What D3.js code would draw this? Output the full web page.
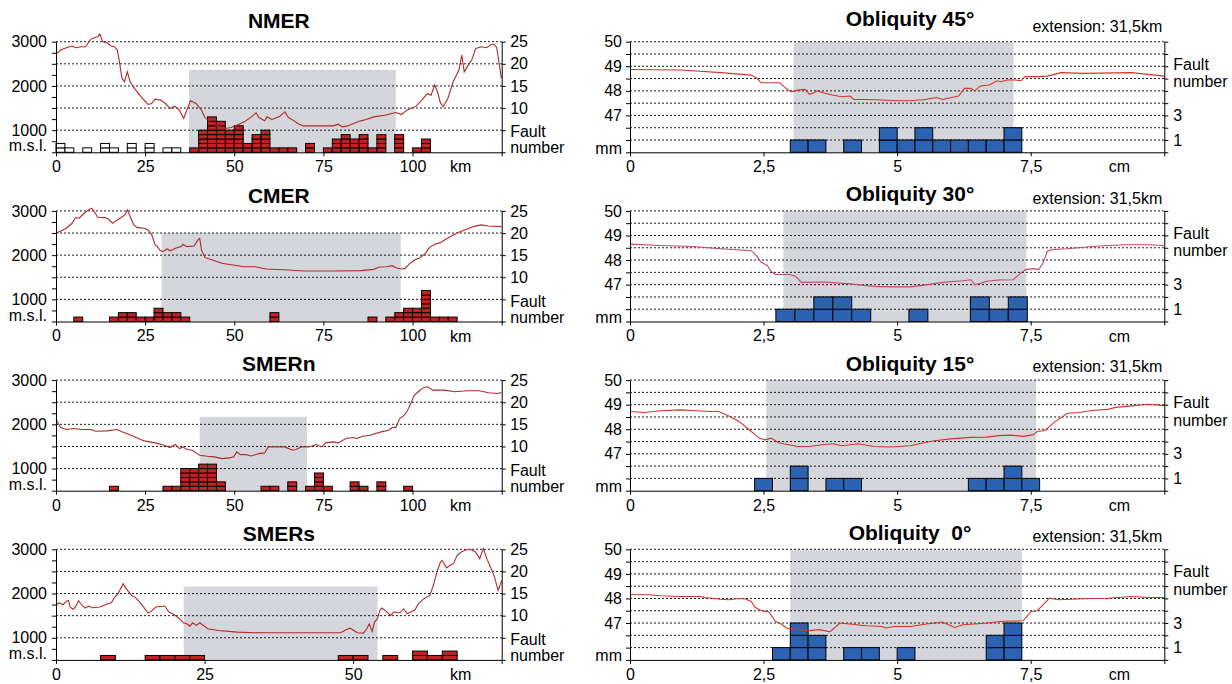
<!DOCTYPE html>
<html><head><meta charset="utf-8">
<script src="https://cdn.jsdelivr.net/npm/d3@7"></script>
<style>
body{margin:0;background:#fff}
svg{display:block;font-family:"Liberation Sans",Arial,Helvetica,sans-serif}
</style></head><body>
<svg id="chart" width="1232" height="684"></svg>
<script>
// ---- left column: natural rift profiles (km, m) ----
const nmerProfile = [[0.3,2736],[1.35,2811],[2.9,2864],[4.5,2902],[5.5,2864],[7.1,2887],[8.3,2887],[9.7,3053],[10.7,3090],[11.7,3113],[12.3,3174],[13.1,3000],[14.3,2977],[15.4,2902],[16.4,2887],[17.2,2811],[17.8,2547],[18.5,2170],[19.2,2094],[20.0,2320],[20.8,2094],[21.8,1966],[23.5,1792],[24.7,1679],[25.8,1581],[26.8,1603],[27.8,1701],[29.4,1679],[30.7,1603],[32.0,1490],[33.3,1543],[34.6,1452],[35.8,1264],[36.7,1452],[37.7,1664],[39.3,1603],[40.8,1452],[41.8,1286],[43.4,1165],[45.5,1090],[47.6,1037],[49.1,1060],[50.7,1113],[52.8,1188],[54.8,1301],[56.1,1392],[56.9,1286],[58.5,1211],[59.2,1301],[60.5,1241],[62.6,1301],[64.2,1414],[65.2,1286],[66.8,1211],[67.8,1150],[69.4,1097],[73.5,1097],[77.7,1097],[79.2,1135],[80.3,1075],[81.8,1097],[83.4,1150],[85.5,1211],[87.0,1241],[89.1,1301],[92.2,1339],[95.3,1399],[96.9,1354],[98.4,1452],[101.0,1543],[102.6,1679],[104.2,1830],[105.2,1792],[106.2,2019],[107.0,1868],[107.8,1618],[108.6,1528],[109.9,1717],[111.4,2094],[113.0,2358],[113.8,2698],[114.5,2320],[115.6,2471],[116.6,2585],[117.7,2849],[119.2,2887],[120.8,2864],[121.8,2924],[122.8,2947],[123.6,2871],[124.9,2170]];
const cmerProfile = [[0,2494],[1.35,2547],[2.9,2607],[4.5,2720],[5.5,2849],[6.5,2834],[7.6,2924],[9.1,3023],[10.0,3060],[10.7,2985],[11.7,2857],[13.8,2849],[14.8,2811],[15.9,2720],[17.2,2796],[18.7,2872],[19.5,2924],[20.0,3023],[20.8,2872],[21.8,2683],[22.8,2622],[24.7,2607],[25.8,2570],[26.8,2471],[27.8,2230],[28.3,2207],[29.1,2117],[29.9,2079],[31.2,2140],[32.0,2094],[33.5,2155],[35.1,2192],[35.6,2245],[36.7,2192],[38.7,2207],[39.8,2343],[40.3,2381],[40.8,2117],[41.8,1943],[43.9,1890],[46.5,1815],[49.6,1777],[52.8,1739],[55.9,1739],[59.0,1686],[65.2,1664],[69.4,1641],[77.7,1641],[85.5,1649],[89.1,1679],[90.7,1732],[92.7,1739],[94.3,1762],[95.3,1717],[96.9,1686],[97.9,1701],[99.0,1792],[100.5,1890],[102.1,1943],[103.6,2041],[104.7,2170],[106.2,2245],[107.8,2283],[109.3,2358],[111.4,2456],[113.0,2517],[115.1,2585],[117.1,2645],[119.2,2683],[121.3,2660],[124.9,2645]];
const smernProfile = [[0,2132],[0.5,2034],[1.35,1928],[2.9,1883],[5.0,1905],[7.1,1883],[9.7,1883],[11.2,1845],[14.3,1852],[17.2,1883],[18.5,1830],[21.1,1754],[23.7,1656],[24.7,1626],[27.8,1581],[30.4,1528],[32.0,1475],[33.5,1543],[34.6,1452],[35.6,1490],[36.7,1430],[38.2,1415],[40.3,1301],[42.4,1279],[44.4,1264],[46.5,1226],[48.6,1241],[49.8,1264],[50.7,1377],[51.7,1316],[53.3,1316],[54.8,1286],[56.9,1339],[58.5,1354],[59.5,1490],[61.6,1490],[64.2,1490],[66.3,1415],[67.3,1430],[68.8,1490],[70.9,1490],[73.0,1543],[74.6,1490],[75.6,1581],[77.7,1603],[79.2,1581],[81.3,1679],[83.4,1701],[84.4,1679],[86.0,1732],[88.1,1754],[91.2,1830],[93.3,1868],[94.3,1928],[95.3,1928],[96.4,2132],[97.4,2185],[98.4,2283],[99.5,2472],[100.5,2660],[101.6,2736],[103.1,2834],[104.2,2849],[105.7,2773],[108.8,2773],[111.9,2736],[115.1,2758],[118.7,2758],[121.3,2713],[123.9,2698],[124.9,2720]];
const smersProfile = [[0,1732],[0.5,1792],[1.2,1747],[1.7,1822],[2.1,1845],[2.4,1694],[2.9,1641],[3.4,1732],[3.8,1837],[4.3,1747],[4.9,1671],[5.5,1717],[6.2,1679],[7.4,1694],[8.7,1770],[9.3,1792],[9.9,1920],[10.5,2011],[11.3,2222],[11.8,2109],[12.7,1958],[13.3,1920],[14.3,1770],[15.5,1558],[16.0,1596],[16.8,1694],[18.3,1717],[19.0,1581],[19.9,1520],[20.8,1430],[21.4,1339],[22.0,1316],[22.5,1263],[23.0,1339],[23.6,1279],[24.2,1339],[24.8,1279],[25.5,1203],[27.3,1165],[30.5,1128],[34.2,1113],[40.4,1113],[47.9,1113],[48.8,1180],[49.5,1218],[50.1,1165],[50.7,1113],[51.7,1105],[52.3,1203],[52.7,1316],[53.2,1143],[53.6,1354],[54.1,1430],[54.5,1618],[54.8,1671],[55.4,1618],[56.3,1505],[56.9,1581],[57.9,1565],[58.5,1656],[59.1,1543],[59.7,1581],[60.4,1634],[61.0,1770],[61.9,1883],[62.9,1958],[63.5,2185],[64.1,2487],[64.7,2713],[65.0,2751],[65.7,2577],[66.3,2638],[66.9,2675],[67.5,2864],[68.2,2940],[68.8,2977],[69.7,3000],[70.6,2940],[71.3,2789],[71.9,3015],[72.5,2789],[73.1,2600],[73.7,2411],[74.4,2071],[75.0,2298]];

// fault counts per 2.5 km bin: [bin start km, number]
const nmerFaults = [[37.5,1],[40,5],[42.5,8],[45,7],[47.5,5],[50,6],[52.5,2],[55,4],[57.5,5],[60,1],[62.5,1],[65,1],[70,2],[75,1],[77.5,3],[80,4],[82.5,3],[85,4],[87.5,1],[90,4],[95,4],[100,1],[102.5,3]];
const nmerOldFaults = [[0,2],[2.5,1],[7.5,1],[12.5,2],[15,1],[20,2],[25,2],[30,1],[32.5,1]];
const cmerFaults = [[5,1],[15,1],[17.5,2],[20,2],[22.5,1],[25,1],[27.5,3],[30,2],[32.5,2],[35,1],[60,2],[87.5,1],[92.5,1],[95,2],[97.5,3],[100,3],[102.5,7],[105,1],[107.5,1],[110,1]];
const smernFaults = [[15,1],[30,1],[32.5,1],[35,5],[37.5,5],[40,6],[42.5,6],[45,2],[57.5,1],[60,1],[65,2],[70,1],[72.5,4],[75,1],[82.5,2],[85,1],[90,2],[97.5,1]];
const smersFaults = [[7.5,1],[15,1],[17.5,1],[20,1],[22.5,1],[47.5,1],[50,1],[55,1],[60,2],[62.5,1],[65,2]];

// shaded rift zone: [from km, to km, top m]
const nmerZone = [37.3, 95.3, 2360];
const cmerZone = [29.6, 96.7, 2500];
const smernZone = [40.3, 70.4, 2170];
const smersZone = [21.5, 54.1, 2160];

// ---- right column: analogue models (cm, mm) ----
const obl45Profile = [[0,48.87],[0.95,48.85],[1.7,48.74],[2.27,48.64],[2.38,48.51],[2.45,48.33],[2.8,48.33],[2.9,48.14],[3.02,47.96],[3.13,48.03],[3.28,48.06],[3.36,47.86],[3.44,47.92],[3.51,48.0],[3.62,47.92],[3.78,47.83],[3.96,47.76],[4.12,47.79],[4.19,47.65],[4.42,47.65],[4.72,47.63],[5.02,47.6],[5.25,47.6],[5.4,47.63],[5.47,47.63],[5.62,47.69],[5.74,47.73],[5.85,47.65],[6.0,47.72],[6.15,47.79],[6.26,48.1],[6.38,48.1],[6.45,48.0],[6.56,48.2],[6.72,48.24],[6.87,48.41],[6.94,48.37],[7.06,48.44],[7.21,48.44],[7.32,48.41],[7.39,48.58],[7.66,48.58],[7.81,48.6],[8.07,48.74],[8.49,48.71],[9.39,48.74],[10.0,48.6]];
const obl30Profile = [[0,48.65],[0.57,48.59],[1.17,48.55],[1.7,48.46],[2.27,48.38],[2.38,48.15],[2.45,47.92],[2.57,47.78],[2.64,47.54],[2.72,47.41],[2.98,47.41],[3.1,47.34],[3.21,47.09],[3.66,47.11],[4.11,47.03],[4.57,46.93],[4.87,46.91],[5.25,46.91],[5.47,46.97],[5.85,47.09],[6.23,47.16],[6.38,47.2],[6.45,47.0],[6.53,47.03],[6.68,47.14],[6.9,47.19],[7.17,47.2],[7.28,47.41],[7.4,47.61],[7.55,47.65],[7.65,47.61],[7.73,47.88],[7.81,48.35],[7.88,48.42],[8.18,48.46],[8.64,48.55],[9.24,48.62],[9.69,48.62],[10.0,48.59]];
const obl15Profile = [[0,48.72],[0.27,48.68],[0.57,48.75],[0.95,48.79],[1.25,48.75],[1.48,48.72],[1.66,48.72],[1.85,48.54],[2.04,48.32],[2.23,47.98],[2.34,47.78],[2.42,47.64],[2.53,47.57],[2.64,47.64],[2.79,47.44],[2.98,47.37],[3.13,47.3],[3.36,47.3],[3.59,47.37],[3.81,47.41],[3.96,47.33],[4.27,47.41],[4.57,47.3],[4.87,47.28],[5.25,47.33],[5.47,47.44],[5.7,47.53],[6.0,47.61],[6.38,47.67],[6.68,47.68],[6.9,47.74],[7.13,47.76],[7.36,47.71],[7.55,47.78],[7.62,47.91],[7.77,47.95],[7.96,48.32],[8.19,48.65],[8.41,48.68],[8.64,48.76],[8.94,48.81],[9.09,48.89],[9.39,48.95],[9.69,49.02],[10.0,48.96]];
const obl0Profile = [[0,48.15],[0.34,48.15],[0.57,48.11],[0.95,48.08],[1.32,48.08],[1.4,48.04],[1.7,47.97],[1.85,47.95],[2.0,47.99],[2.15,47.99],[2.27,47.88],[2.34,47.64],[2.46,47.5],[2.6,47.45],[2.72,47.07],[2.83,46.96],[2.95,46.77],[3.06,46.77],[3.36,46.69],[3.55,46.73],[3.74,46.64],[3.93,47.0],[4.11,46.96],[4.42,46.89],[4.72,46.86],[4.79,46.8],[4.94,46.86],[5.25,46.86],[5.55,46.96],[5.85,47.04],[5.96,46.93],[6.08,46.82],[6.23,46.93],[6.45,46.96],[6.68,47.0],[6.98,47.07],[7.36,47.09],[7.43,47.27],[7.51,47.47],[7.62,47.5],[7.73,47.74],[7.85,48.01],[8.03,47.95],[8.49,47.99],[8.94,48.01],[9.39,48.08],[9.69,48.04],[10.0,48.04]];

// fault counts: [bin start cm, number]
const obl45Faults = [[3.0,1],[3.333,1],[4.0,1],[4.667,2],[5.0,1],[5.333,2],[5.667,1],[6.0,1],[6.333,1],[6.667,1],[7.0,2]];
const obl30Faults = [[2.73,1],[3.085,1],[3.44,2],[3.795,2],[4.15,1],[5.22,1],[6.37,2],[6.725,1],[7.08,2]];
const obl15Faults = [[2.333,1],[3.0,2],[3.667,1],[4.0,1],[6.333,1],[6.667,1],[7.0,2],[7.333,1]];
const obl0Faults = [[2.667,1],[3.0,3],[3.333,2],[4.0,1],[4.333,1],[5.0,1],[6.667,2],[7.0,3]];
const modelBinWidth = [1/3, 0.355, 1/3, 1/3];

const obl45Zone = [3.06, 7.18, 50];
const obl30Zone = [2.87, 7.42, 50];
const obl15Zone = [2.55, 7.6, 50];
const obl0Zone = [3.0, 7.34, 50];

const leftTitles = ["NMER", "CMER", "SMERn", "SMERs"];
const leftKmMax = [125, 125, 125, 75];
const rightTitles = ["Obliquity 45°", "Obliquity 30°", "Obliquity 15°", "Obliquity  0°"];
const extensionText = "extension: 31,5km";
const elevTicks = [500, 750, 1000, 1250, 1500, 1750, 2000, 2250, 2500, 2750, 3000];
const elevLabels = [1000, 2000, 3000];
const elevGrid = [1000, 1500, 2000, 2500, 3000];
const faultTicksL = [0, 5, 10, 15, 20, 25];
const faultLabelsL = [10, 15, 20, 25];
const mmTicks = [45.5, 46, 46.5, 47, 47.5, 48, 48.5, 49, 49.5, 50];
const mmLabels = [47, 48, 49, 50];
const faultTicksR = [0, 1, 2, 3, 4, 5, 6, 7, 8, 9];
const faultLabelsR = [1, 3];

// ---- layout ----
const svg = d3.select("#chart");
const PLOT_H = 110.6;
const rowTop = i => 41.7 + i * 169.2;
const LX = [56, 501.7], RX = [630, 1164.3];
const leftTitleY = [20, 195, 363.5, 533];
const rightTitleY = [18.5, 193.5, 363.5, 532.5];
const extY = [26, 198.5, 366.5, 536.5];
const FS = 16;
const TITLE_FS = 21;

function styleAxis(g) {
  g.attr("font-size", FS).attr("font-family", null);
  g.selectAll("path, line").attr("stroke", "#000").attr("stroke-width", 1);
  g.selectAll("text").attr("fill", "#000");
}

function drawGrid(g, x, y, values) {
  g.append("g").selectAll("line").data(values).join("line")
    .attr("x1", x.range()[0]).attr("x2", x.range()[1])
    .attr("y1", d => y(d)).attr("y2", d => y(d))
    .attr("stroke", "#000").attr("stroke-width", 0.9)
    .attr("stroke-dasharray", "2,2");
}

function drawCells(g, x, f, data, width, fill) {
  const cells = data.flatMap(([s, n]) => d3.range(n).map(k => ({ s, k })));
  g.append("g").selectAll("rect").data(cells).join("rect")
    .attr("x", d => x(d.s)).attr("width", d => x(d.s + width) - x(d.s))
    .attr("y", d => f(d.k + 1)).attr("height", d => f(d.k) - f(d.k + 1))
    .attr("fill", fill).attr("stroke", "#000").attr("stroke-width", 1);
}

function drawLeft(i, profile, faults, zone, oldFaults) {
  const top = rowTop(i), bottom = top + PLOT_H;
  const g = svg.append("g");
  const x = d3.scaleLinear().domain([0, leftKmMax[i]]).range(LX);
  const y = d3.scaleLinear().domain([500, 3000]).range([bottom, top]);
  const f = d3.scaleLinear().domain([0, 25]).range([bottom, top]);

  g.append("rect").attr("x", x(zone[0])).attr("width", x(zone[1]) - x(zone[0]))
    .attr("y", y(zone[2])).attr("height", bottom - y(zone[2])).attr("fill", "#d5d6db");
  drawGrid(g, x, y, elevGrid);
  if (oldFaults) drawCells(g, x, f, oldFaults, 2.5, "#fff");
  drawCells(g, x, f, faults, 2.5, "#c42222");
  g.append("path").datum(profile)
    .attr("d", d3.line().x(d => x(d[0])).y(d => y(d[1])))
    .attr("fill", "none").attr("stroke", "#b02a2a").attr("stroke-width", 1.1);

  const xt = d3.range(0, leftKmMax[i] + 1, 25);
  g.append("g").attr("transform", `translate(0,${bottom})`)
    .call(d3.axisBottom(x).tickValues(xt).tickSize(4).tickSizeOuter(0).tickPadding(4.5)
      .tickFormat(d => d < leftKmMax[i] ? d : ""))
    .call(styleAxis);
  g.append("g").attr("transform", `translate(${LX[0]},0)`)
    .call(d3.axisLeft(y).tickValues(elevTicks).tickSize(4).tickSizeOuter(0).tickPadding(5)
      .tickFormat(d => elevLabels.includes(d) ? d : ""))
    .call(styleAxis);
  g.append("g").attr("transform", `translate(${LX[1]},0)`)
    .call(d3.axisRight(f).tickValues(faultTicksL).tickSize(4).tickSizeOuter(0).tickPadding(4.5)
      .tickFormat(d => faultLabelsL.includes(d) ? d : ""))
    .call(styleAxis);

  const t = g.append("g").attr("font-size", FS).attr("fill", "#000");
  t.append("text").attr("x", LX[0] - 9).attr("y", bottom - 1).attr("text-anchor", "end").text("m.s.l.");
  t.append("text").attr("x", LX[1] + 8.5).attr("y", bottom - 15).text("Fault");
  t.append("text").attr("x", LX[1] + 8.5).attr("y", bottom + 1).text("number");
  t.append("text").attr("x", LX[1] - 41).attr("y", bottom + 20).attr("text-anchor", "middle").text("km");
  g.append("text").attr("x", (LX[0] + LX[1]) / 2).attr("y", leftTitleY[i] + 7.5)
    .attr("text-anchor", "middle").attr("font-weight", "bold").attr("font-size", TITLE_FS)
    .text(leftTitles[i]);
}

function drawRight(i, profile, faults, zone, lineColor) {
  const top = rowTop(i), bottom = top + PLOT_H;
  const g = svg.append("g");
  const x = d3.scaleLinear().domain([0, 10]).range(RX);
  const y = d3.scaleLinear().domain([45.5, 50]).range([bottom, top]);
  const f = d3.scaleLinear().domain([0, 9]).range([bottom, top]);

  g.append("rect").attr("x", x(zone[0])).attr("width", x(zone[1]) - x(zone[0]))
    .attr("y", y(zone[2])).attr("height", bottom - y(zone[2])).attr("fill", "#d5d6db");
  drawGrid(g, x, y, mmTicks.slice(1));
  drawCells(g, x, f, faults, modelBinWidth[i], "#2b62b2");
  g.append("path").datum(profile)
    .attr("d", d3.line().x(d => x(d[0])).y(d => y(d[1])))
    .attr("fill", "none").attr("stroke", lineColor).attr("stroke-width", 1.1);

  g.append("g").attr("transform", `translate(0,${bottom})`)
    .call(d3.axisBottom(x).tickValues([0, 2.5, 5, 7.5, 10]).tickSize(4).tickSizeOuter(0).tickPadding(4.5)
      .tickFormat(d => d < 10 ? String(d).replace(".", ",") : ""))
    .call(styleAxis);
  g.append("g").attr("transform", `translate(${RX[0]},0)`)
    .call(d3.axisLeft(y).tickValues(mmTicks).tickSize(4).tickSizeOuter(0).tickPadding(4)
      .tickFormat(d => mmLabels.includes(d) ? d : ""))
    .call(styleAxis);
  g.append("g").attr("transform", `translate(${RX[1]},0)`)
    .call(d3.axisRight(f).tickValues(faultTicksR).tickSize(4).tickSizeOuter(0).tickPadding(5)
      .tickFormat(d => faultLabelsR.includes(d) ? d : ""))
    .call(styleAxis);

  const t = g.append("g").attr("font-size", FS).attr("fill", "#000");
  t.append("text").attr("x", RX[0] - 8).attr("y", bottom + 1.5).attr("text-anchor", "end").text("mm");
  t.append("text").attr("x", RX[1] + 9).attr("y", top + 28).text("Fault");
  t.append("text").attr("x", RX[1] + 9).attr("y", top + 45.5).text("number");
  t.append("text").attr("x", RX[1] - 45).attr("y", bottom + 20).attr("text-anchor", "middle").text("cm");
  t.append("text").attr("x", RX[1] - 2).attr("y", extY[i] + 5.5).attr("text-anchor", "end").text(extensionText);
  g.append("text").attr("x", 910).attr("y", rightTitleY[i] + 7.5)
    .attr("text-anchor", "middle").attr("font-weight", "bold").attr("font-size", TITLE_FS)
    .style("white-space", "pre")
    .text(rightTitles[i]);
}

drawLeft(0, nmerProfile, nmerFaults, nmerZone, nmerOldFaults);
drawLeft(1, cmerProfile, cmerFaults, cmerZone);
drawLeft(2, smernProfile, smernFaults, smernZone);
drawLeft(3, smersProfile, smersFaults, smersZone);

drawRight(0, obl45Profile, obl45Faults, obl45Zone, "#d2352c");
drawRight(1, obl30Profile, obl30Faults, obl30Zone, "#c8466c");
drawRight(2, obl15Profile, obl15Faults, obl15Zone, "#d2352c");
drawRight(3, obl0Profile, obl0Faults, obl0Zone, "#d2352c");
</script>
</body></html>
